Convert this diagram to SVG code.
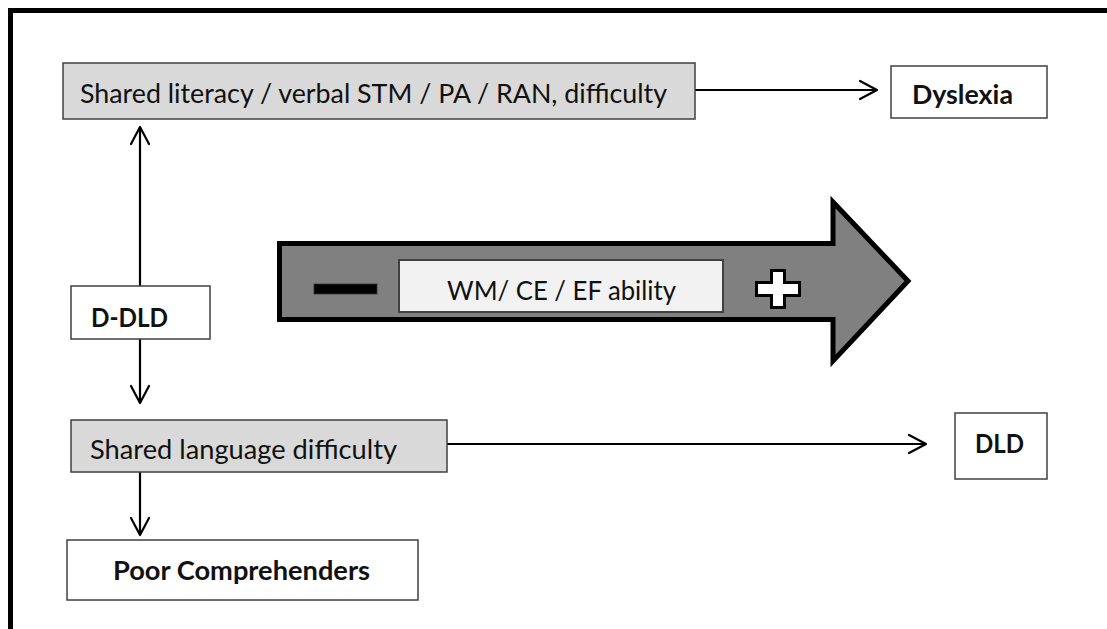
<svg xmlns="http://www.w3.org/2000/svg" width="1107" height="629" viewBox="0 0 1107 629">
  <style>
    .t { font-family: Lato, "Open Sans", "Liberation Sans", sans-serif; font-size: 27.5px; fill: #111; }
    .b { font-weight: bold; }
    .gray { fill: #d9d9d9; stroke: #404040; stroke-width: 1.5; }
    .white { fill: #ffffff; stroke: #404040; stroke-width: 1.5; }
    .conn { stroke: #000; stroke-width: 2.2; fill: none; marker-end: url(#arr); }
  </style>
  <defs>
    <marker id="arr" markerUnits="userSpaceOnUse" viewBox="-20 -11 22 22" markerWidth="22" markerHeight="22" refX="0" refY="0" orient="auto">
      <path d="M-17,-9 L0,0 L-17,9" fill="none" stroke="#000" stroke-width="2.2" stroke-linejoin="round" stroke-linecap="round"/>
    </marker>
  </defs>
  <rect width="1107" height="629" fill="#ffffff"/>
  <path d="M10.5,629 V10.5 H1107" fill="none" stroke="#000" stroke-width="5"/>

  <g id="connectors">
    <line class="conn" x1="695" y1="90" x2="877" y2="90"/>
    <line class="conn" x1="140" y1="286" x2="140" y2="127"/>
    <line class="conn" x1="140" y1="339" x2="140" y2="403"/>
    <line class="conn" x1="447" y1="444" x2="926" y2="444"/>
    <line class="conn" x1="140" y1="472" x2="140" y2="535"/>
  </g>

  <g id="node-shared-literacy">
    <rect class="gray" x="63" y="63" width="632" height="56"/>
    <text class="t" x="80" y="103" textLength="587" lengthAdjust="spacingAndGlyphs">Shared literacy / verbal STM / PA / RAN, difficulty</text>
  </g>
  <g id="node-dyslexia">
    <rect class="white" x="891" y="66" width="156" height="52"/>
    <text class="t b" x="912" y="104" textLength="101" lengthAdjust="spacingAndGlyphs">Dyslexia</text>
  </g>
  <g id="node-ddld">
    <rect class="white" x="71" y="286" width="139" height="53"/>
    <text class="t b" x="91" y="327" textLength="77" lengthAdjust="spacingAndGlyphs">D-DLD</text>
  </g>
  <g id="node-shared-language">
    <rect class="gray" x="71" y="420" width="376" height="52"/>
    <text class="t" x="90" y="459" textLength="307" lengthAdjust="spacingAndGlyphs">Shared language difficulty</text>
  </g>
  <g id="node-dld">
    <rect class="white" x="955" y="413" width="92" height="66"/>
    <text class="t b" x="975" y="453" textLength="49" lengthAdjust="spacingAndGlyphs">DLD</text>
  </g>
  <g id="node-poor-comprehenders">
    <rect class="white" x="67" y="540" width="351" height="60"/>
    <text class="t b" x="113" y="580" textLength="257" lengthAdjust="spacingAndGlyphs">Poor Comprehenders</text>
  </g>

  <g id="node-big-arrow">
    <polygon points="279.5,243.5 833,243.5 833,202 908,281 833,361 833,319.5 279.5,319.5" fill="#808080" stroke="#000" stroke-width="5" stroke-linejoin="miter"/>
    <rect x="314" y="284" width="63" height="10" fill="#000" stroke="#333" stroke-width="0.8"/>
    <rect x="399" y="260" width="324" height="52" fill="#f2f2f2" stroke="#404040" stroke-width="2"/>
    <text class="t" x="447" y="300" textLength="229" lengthAdjust="spacingAndGlyphs">WM/ CE / EF ability</text>
    <path d="M771.5,270.5 H784.5 V282.5 H799.5 V295.5 H784.5 V307.5 H771.5 V295.5 H756.5 V282.5 H771.5 Z" fill="#ffffff" stroke="#000" stroke-width="3" stroke-linejoin="miter"/>
  </g>
</svg>
